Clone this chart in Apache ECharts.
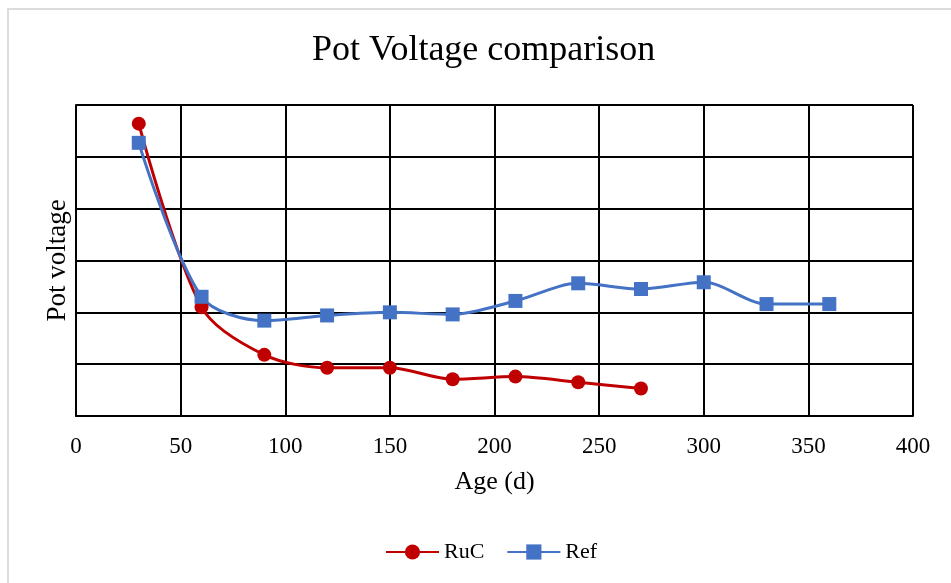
<!DOCTYPE html>
<html>
<head>
<meta charset="utf-8">
<script src="https://cdn.jsdelivr.net/npm/echarts@6/dist/echarts.min.js"></script>
<style>
  html, body { margin: 0; padding: 0; background: #fff; }
  #frame {
    position: absolute; left: 7px; top: 8px; right: 0; bottom: 0;
    border-left: 2px solid #dcdcdc; border-top: 2px solid #dcdcdc;
  }
  #chart { position: absolute; left: 0; top: 0; width: 951px; height: 583px; }
</style>
</head>
<body>
<div id="frame"></div>
<div id="chart"></div>
<script>
// age in days, pot voltage (unitless scale, axis labels hidden in source)
const rucAge = [30, 60, 90, 120, 150, 180, 210, 240, 270];
const rucVoltage = [5.64, 2.1, 1.18, 0.93, 0.93, 0.71, 0.76, 0.65, 0.53];
const refAge = [30, 60, 90, 120, 150, 180, 210, 240, 270, 300, 330, 360];
const refVoltage = [5.27, 2.3, 1.84, 1.94, 2.0, 1.96, 2.22, 2.56, 2.45, 2.58, 2.16, 2.16];

const serif = "'Liberation Serif', 'Times New Roman', serif";

const chart = echarts.init(document.getElementById("chart"));

const option = {
  animation: false,
  title: {
    text: "Pot Voltage comparison",
    left: 312,
    top: 33,
    padding: 0,
    textStyle: { fontFamily: serif, fontWeight: "normal", fontSize: 36, color: "#000" },
  },
  legend: {
    bottom: 15,
    left: 380,
    itemWidth: 53,
    itemHeight: 19,
    itemGap: 22,
    textStyle: { fontFamily: serif, fontSize: 22, color: "#000" },
    data: ["RuC", "Ref"],
  },
  grid: { left: 76, right: 38, top: 105, bottom: 167 },
  xAxis: {
    type: "value",
    min: 0,
    max: 400,
    interval: 50,
    name: "Age (d)",
    nameLocation: "middle",
    nameGap: 53,
    nameTextStyle: { fontFamily: serif, fontSize: 26, color: "#000" },
    axisLine: { show: true, lineStyle: { color: "#000", width: 2 } },
    axisTick: { show: false },
    axisLabel: { fontFamily: serif, fontSize: 23, color: "#000", margin: 19 },
    splitLine: { show: true, lineStyle: { color: "#000", width: 2 } },
  },
  yAxis: {
    type: "value",
    min: 0,
    max: 6,
    interval: 1,
    name: "Pot voltage",
    nameLocation: "middle",
    nameGap: 5,
    nameTextStyle: { fontFamily: serif, fontSize: 27, color: "#000" },
    axisLine: { show: true, lineStyle: { color: "#000", width: 2 } },
    axisTick: { show: false },
    axisLabel: { show: false },
    splitLine: { show: true, lineStyle: { color: "#000", width: 2 } },
  },
  series: [
    {
      name: "RuC",
      type: "line",
      smooth: 0.3,
      symbol: "circle",
      symbolSize: 14,
      color: "#C00000",
      lineStyle: { width: 3 },
      data: rucAge.map((a, i) => [a, rucVoltage[i]]),
    },
    {
      name: "Ref",
      type: "line",
      smooth: 0.3,
      symbol: "rect",
      symbolSize: 14,
      color: "#4472C4",
      lineStyle: { width: 3 },
      data: refAge.map((a, i) => [a, refVoltage[i]]),
    },
  ],
};

chart.setOption(option);
</script>
</body>
</html>
